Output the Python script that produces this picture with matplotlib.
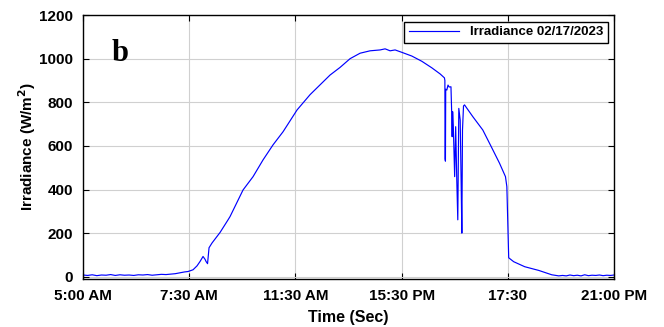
import numpy as np
import matplotlib
matplotlib.use("Agg")
import matplotlib.pyplot as plt

# ---------------- data ----------------
# time in seconds from 5:00 AM, irradiance in W/m^2
t_morning = [0, 500, 1000, 1500, 2000, 2500, 3000, 3500, 4000, 4500, 5000, 5500,
             6000, 6500, 7000, 7500, 8000, 8500, 9000, 9500, 10000, 10500, 11000]
g_morning = [8, 6, 9, 5, 8, 7, 10, 6, 9, 7, 8, 6,
             9, 8, 10, 7, 9, 11, 10, 12, 14, 18, 22]

t_day = [11390, 11932, 12366, 12691, 13016, 13234, 13342, 13505, 13667, 13993,
         14860, 15728, 15945, 17355, 18440, 19525, 20610, 21694, 23213, 24623,
         25707, 26792, 27877, 28962, 30046, 31131, 32216, 32758, 33300, 33843,
         34570, 35654, 36739, 37824, 38724, 39190, 39240, 39260, 39300, 39330,
         39450, 39580, 39700, 39900, 39970, 40030, 40080, 40150, 40300, 40410,
         40530, 40640, 40750, 40900, 41010, 41080, 41150, 41260, 41370, 42270,
         43350, 44260, 45160, 45810, 45960, 46100, 46160, 46700, 47900, 49420,
         50830, 51590]
g_day = [24, 32, 50, 70, 93, 80, 70, 60, 133, 155,
         203, 261, 276, 398, 459, 536, 605, 665, 765, 835,
         880, 925, 960, 1000, 1025, 1036, 1040, 1045, 1036, 1040,
         1029, 1012, 988, 958, 930, 912, 900, 540, 530, 860,
         856, 879, 870, 871, 765, 642, 757, 696, 459, 688,
         444, 261, 772, 719, 413, 200, 673, 783, 788, 734,
         673, 597, 521, 459, 413, 185, 87, 69, 46, 29,
         9, 4]

t_evening = [52000, 52400, 52800, 53200, 53600, 54000, 54400, 54800, 55200,
             55600, 56000, 56400, 56800, 57200, 57600]
g_evening = [6, 4, 8, 5, 7, 4, 9, 5, 7, 6, 8, 5, 7, 6, 8]

tick_pos = [0, 11520, 23040, 34560, 46080, 57600]
tick_lbl = ['5:00 AM', '7:30 AM', '11:30 AM', '15:30 PM', '17:30', '21:00 PM']

t = np.array(t_morning + t_day + t_evening)
g = np.array(g_morning + g_day + g_evening)

# ---------------- plot ----------------
plt.rcParams['font.family'] = ['Liberation Sans', 'DejaVu Sans']
plt.rcParams['font.weight'] = 'bold'

fig = plt.figure(figsize=(6.64, 3.27), dpi=100)
ax = fig.add_axes([0.125, 0.147, 0.80, 0.807])

ax.plot(t, g, color='#0000ff', lw=0.85, label='Irradiance 02/17/2023')

ax.set_xlim(0, 57600)
ax.set_ylim(-10, 1200)
ax.set_xticks(tick_pos)
ax.set_xticklabels(tick_lbl)
ax.set_yticks(np.arange(0, 1201, 200))
ax.tick_params(direction='in', top=True, right=True, labelsize=11, length=4, pad=7)
for lab in ax.get_xticklabels() + ax.get_yticklabels():
    lab.set_fontweight('bold')
ax.grid(True, color='#d0d0d0', lw=0.8)
ax.set_axisbelow(True)
for s in ax.spines.values():
    s.set_linewidth(1.0)

ax.set_xlabel('Time (Sec)', fontsize=11.5, fontweight='bold', labelpad=5)
ax.set_ylabel(r'Irradiance (W/m$^{\mathbf{2}}$)', fontsize=11, fontweight='bold', labelpad=1)

leg = ax.legend(loc='upper right', fontsize=9.5, frameon=True, fancybox=False,
                edgecolor='black', framealpha=1, handlelength=3.8,
                borderaxespad=0.5, borderpad=0.35)
leg.get_frame().set_linewidth(1.0)
for txt in leg.get_texts():
    txt.set_fontweight('bold')

ax.text(0.07, 0.855, 'b', transform=ax.transAxes, fontsize=22, fontweight='bold',
        family='Liberation Serif', ha='center', va='center')

fig.savefig('out.png', dpi=100)
